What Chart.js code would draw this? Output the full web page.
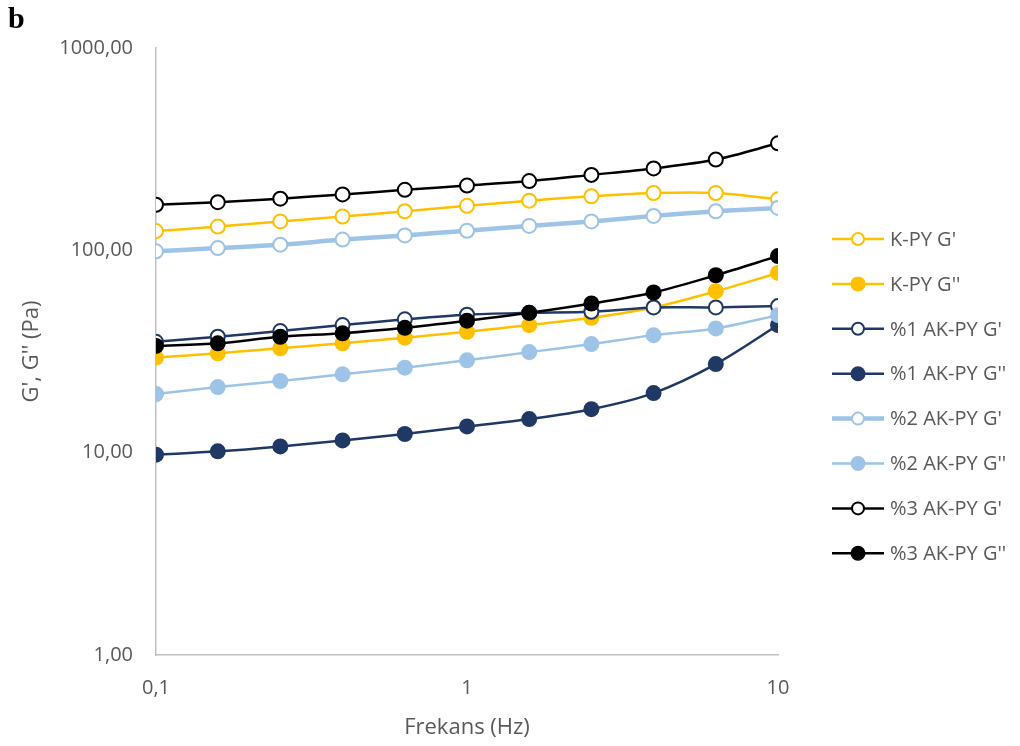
<!DOCTYPE html>
<html>
<head>
<meta charset="utf-8">
<script src="https://cdn.jsdelivr.net/npm/chart.js@4.4.1/dist/chart.umd.min.js"></script>
<style>
  html, body { margin: 0; padding: 0; background: #ffffff; }
  #wrap { width: 1020px; height: 746px; }
</style>
</head>
<body>
<div id="wrap"><canvas id="chart" width="1020" height="746"></canvas></div>
<script>
// Frequency (Hz) and moduli (Pa)
const freq = [0.1, 0.158, 0.251, 0.398, 0.631, 1, 1.585, 2.512, 3.981, 6.31, 10];

const kpyG1 = [124.5, 131, 139, 147, 156, 166, 176, 185, 192, 192, 179];
const kpyG2 = [29.5, 31, 32.8, 34.7, 37, 39.6, 42.7, 46.4, 52.2, 62.8, 77.3];
const ak1G1 = [35.3, 37.4, 39.9, 42.7, 45.6, 48.1, 49.1, 49.7, 52.2, 52.2, 53];
const ak1G2 = [9.77, 10.15, 10.74, 11.5, 12.37, 13.48, 14.66, 16.4, 19.7, 27.4, 42.7];
const ak2G1 = [98.9, 102.6, 106.7, 113, 118.5, 125, 132, 139, 148, 156, 162];
const ak2G2 = [19.5, 21.1, 22.6, 24.4, 26.3, 28.6, 31.4, 34.4, 38.1, 41.1, 47.8];
const ak3G1 = [168, 173, 180, 189, 199, 209, 220, 236, 254, 281, 338];
const ak3G2 = [33.7, 34.7, 37.4, 38.9, 41.4, 44.9, 49.1, 54.6, 61.9, 75.3, 93.7];

const seriesLabels = ["K-PY G'", "K-PY G''", "%1 AK-PY G'", "%1 AK-PY G''",
  "%2 AK-PY G'", "%2 AK-PY G''", "%3 AK-PY G'", "%3 AK-PY G''"];

const xTicks = [0.1, 1, 10];
const yTicks = [1, 10, 100, 1000];

const YELLOW = '#FFC000';
const NAVY = '#203864';
const LIGHT = '#9DC3E6';
const BLACK = '#000000';
const TEXT = '#595959';
const FONT = "'Open Sans', sans-serif";

function toPoints(values) {
  return values.map((v, i) => ({ x: freq[i], y: v }));
}

function makeSeries(label, values, color, hollow, lineWidth) {
  return {
    label,
    data: toPoints(values),
    borderColor: color,
    borderWidth: lineWidth || 2.5,
    backgroundColor: color,
    pointBackgroundColor: hollow ? '#ffffff' : color,
    pointBorderColor: color,
    pointBorderWidth: hollow ? 2 : 0,
    pointRadius: hollow ? 7 : 8,
    pointHoverRadius: hollow ? 7 : 8,
    tension: 0.33,
    fill: false,
    hollow,
  };
}

const datasets = [
  makeSeries(seriesLabels[0], kpyG1, YELLOW, true),
  makeSeries(seriesLabels[1], kpyG2, YELLOW, false),
  makeSeries(seriesLabels[2], ak1G1, NAVY, true),
  makeSeries(seriesLabels[3], ak1G2, NAVY, false),
  makeSeries(seriesLabels[4], ak2G1, LIGHT, true, 4.5),
  makeSeries(seriesLabels[5], ak2G2, LIGHT, false),
  makeSeries(seriesLabels[6], ak3G1, BLACK, true),
  makeSeries(seriesLabels[7], ak3G2, BLACK, false),
];
// later series are drawn on top, like the original
datasets.forEach((d, i) => { d.order = datasets.length - i; });

function commaNum(v, digits) {
  return v.toFixed(digits).replace('.', ',');
}

// Legend on the right + panel letter
const sideLegend = {
  id: 'sideLegend',
  afterDraw(chart) {
    const ctx = chart.ctx;
    ctx.save();
    ctx.fillStyle = '#000000';
    ctx.font = "bold 30px 'Liberation Serif', serif";
    ctx.textBaseline = 'alphabetic';
    ctx.textAlign = 'left';
    ctx.fillText('b', 8, 28);

    chart.data.datasets.forEach((ds, i) => {
      const y = 239 + i * 44.9;
      ctx.strokeStyle = ds.borderColor;
      ctx.lineWidth = ds.borderWidth;
      ctx.beginPath();
      ctx.moveTo(832, y);
      ctx.lineTo(884, y);
      ctx.stroke();
      ctx.beginPath();
      ctx.arc(858, y, ds.hollow ? 6 : 7.5, 0, Math.PI * 2);
      ctx.fillStyle = ds.pointBackgroundColor;
      ctx.fill();
      if (ds.hollow) {
        ctx.lineWidth = 2;
        ctx.strokeStyle = ds.pointBorderColor;
        ctx.stroke();
      }
      ctx.fillStyle = TEXT;
      ctx.font = '20px ' + FONT;
      ctx.textBaseline = 'middle';
      ctx.fillText(ds.label, 890, y + 1);
    });
    ctx.restore();
  },
};

new Chart(document.getElementById('chart'), {
  type: 'line',
  data: { datasets },
  options: {
    responsive: false,
    animation: false,
    layout: { padding: { top: 48, right: 242, bottom: 0, left: 0 } },
    plugins: {
      legend: { display: false },
      tooltip: { enabled: false },
    },
    scales: {
      x: {
        type: 'logarithmic',
        min: 0.1,
        max: 10,
        afterBuildTicks: (scale) => {
          scale.ticks = xTicks.map((v) => ({ value: v }));
        },
        afterFit: (scale) => {
          scale.height = 91;
        },
        grid: { display: false, drawTicks: false },
        border: { display: true, color: '#BFBFBF', width: 1.5 },
        ticks: {
          color: TEXT,
          font: { family: FONT, size: 20 },
          padding: 21,
          maxRotation: 0,
          autoSkip: false,
          callback: (v) => (v < 1 ? commaNum(v, 1) : String(v)),
        },
        title: {
          display: true,
          text: 'Frekans (Hz)',
          color: TEXT,
          font: { family: FONT, size: 22 },
          padding: { top: 0, bottom: 5 },
        },
      },
      y: {
        type: 'logarithmic',
        min: 1,
        max: 1000,
        afterBuildTicks: (scale) => {
          scale.ticks = yTicks.map((v) => ({ value: v }));
        },
        afterFit: (scale) => {
          scale.width = 156;
        },
        grid: { display: false, drawTicks: false },
        border: { display: true, color: '#BFBFBF', width: 1.5 },
        ticks: {
          color: TEXT,
          font: { family: FONT, size: 20 },
          padding: 23,
          autoSkip: false,
          callback: (v) => commaNum(v, 2),
        },
        title: {
          display: true,
          text: "G', G'' (Pa)",
          color: TEXT,
          font: { family: FONT, size: 22 },
          padding: { top: 19, bottom: 0 },
        },
      },
    },
  },
  plugins: [sideLegend],
});
</script>
</body>
</html>
